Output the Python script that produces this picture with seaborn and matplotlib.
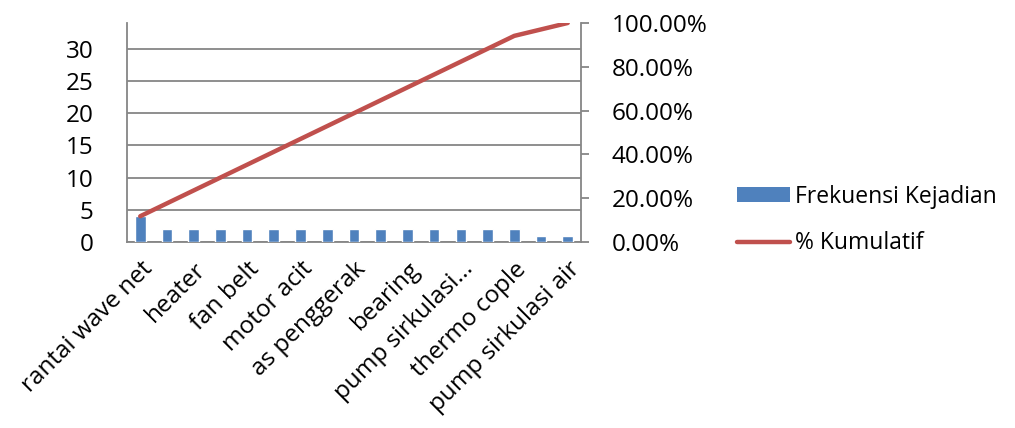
import numpy as np
import pandas as pd
import matplotlib
matplotlib.use("Agg")
import matplotlib.pyplot as plt
from matplotlib.ticker import FuncFormatter
from matplotlib.patches import Patch
from matplotlib.lines import Line2D
import seaborn as sns

# Failure causes, sorted by frequency (Pareto order)
categories = [
    "rantai wave net", "motor penggerak", "heater", "sensor suhu",
    "fan belt", "gear box", "motor acit", "kontaktor",
    "as penggerak", "v-belt", "bearing", "rantai conveyor",
    "pump sirkulasi...", "nozzle", "thermo cople", "selang", "pump sirkulasi air",
]
frequency = [4, 2, 2, 2, 2, 2, 2, 2, 2, 2, 2, 2, 2, 2, 2, 1, 1]
series_names = ["Frekuensi Kejadian", "% Kumulatif"]

BAR_COLOR = "#4F81BD"
LINE_COLOR = "#C0504D"
GRID_COLOR = "#868686"

df = pd.DataFrame({"penyebab": categories, "frekuensi": frequency})
df["pos"] = np.arange(len(df))
df["kumulatif"] = df["frekuensi"].cumsum() / df["frekuensi"].sum()

sns.set_theme(style="white")
plt.rcParams["font.family"] = ["Open Sans", "DejaVu Sans"]
plt.rcParams["text.color"] = "black"
plt.rcParams["xtick.color"] = "black"
plt.rcParams["ytick.color"] = "black"
FS = 17.5

fig = plt.figure(figsize=(10.15, 4.28), dpi=100)
ax = fig.add_axes([0.125, 0.4346, 0.4475, 0.5117])

sns.barplot(data=df, x="penyebab", y="frekuensi", color=BAR_COLOR,
            width=0.4, saturation=1, ax=ax, zorder=3)
ax.set_xlim(-0.5, len(df) - 0.5)
ax.set_ylim(0, df["frekuensi"].sum())
ax.set_yticks(np.arange(0, 31, 5))
ax.grid(axis="y", color=GRID_COLOR, linewidth=1.3, zorder=0)
ax.grid(axis="x", visible=False)
ax.set_axisbelow(True)
ax.set_xlabel("")
ax.set_ylabel("")

ticks = df["pos"].values
ax.set_xticks(ticks)
ax.set_xticklabels([c if i % 2 == 0 else "" for i, c in enumerate(categories)],
                   rotation=45, ha="right", rotation_mode="anchor", fontsize=FS)
ax.tick_params(axis="x", length=0, pad=11)
ax.tick_params(axis="y", length=0, pad=24, labelsize=FS)

for side in ["top", "right"]:
    ax.spines[side].set_visible(False)
for side in ["left", "bottom"]:
    ax.spines[side].set_color(GRID_COLOR)
    ax.spines[side].set_linewidth(1.3)

ax2 = ax.twinx()
sns.lineplot(data=df, x="pos", y="kumulatif", color=LINE_COLOR, linewidth=3.2,
             ax=ax2, solid_capstyle="round", zorder=4)
ax2.set_ylim(0, 1)
ax2.set_yticks(np.arange(0, 1.01, 0.2))
ax2.yaxis.set_major_formatter(FuncFormatter(lambda v, _: f"{v * 100:.2f}%"))
ax2.set_ylabel("")
ax2.set_xlabel("")
ax2.tick_params(axis="y", length=6, width=1.3, color=GRID_COLOR, labelcolor="black",
                pad=16, labelsize=FS)
ax2.grid(False)
for side in ["top", "left", "bottom"]:
    ax2.spines[side].set_visible(False)
ax2.spines["right"].set_color(GRID_COLOR)
ax2.spines["right"].set_linewidth(1.3)
ax2.set_xlim(-0.5, len(df) - 0.5)

handles = [Patch(facecolor=BAR_COLOR, edgecolor="none"),
           Line2D([0], [0], color=LINE_COLOR, linewidth=3.2, solid_capstyle="round")]
fig.legend(handles, series_names, loc="center left", bbox_to_anchor=(0.726, 0.486),
           frameon=False, fontsize=16.5, handlelength=2.3, handleheight=0.6,
           handletextpad=0.25, labelspacing=1.0, borderpad=0, borderaxespad=0)

fig.savefig("out.png", dpi=100)
